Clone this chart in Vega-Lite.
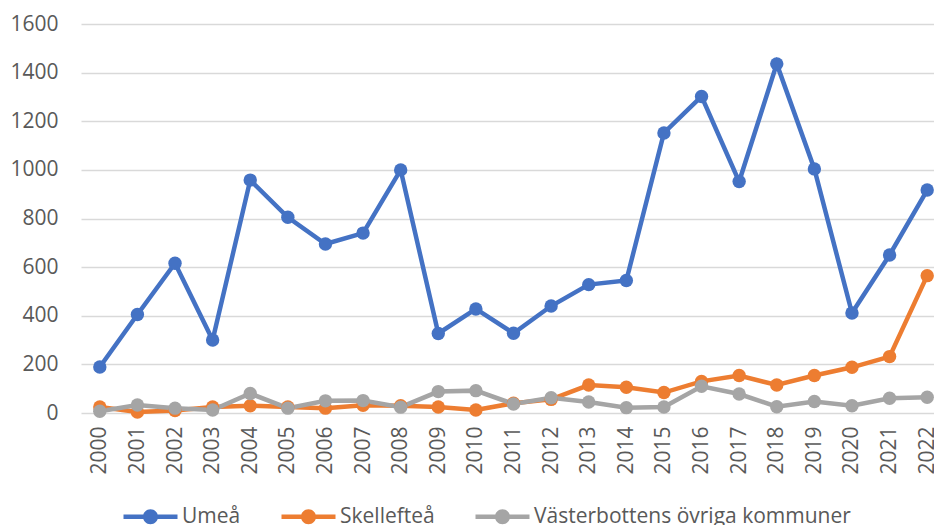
{
  "$schema": "https://vega.github.io/schema/vega-lite/v6.json",
  "width": 865,
  "height": 389,
  "autosize": {"type": "none"},
  "padding": {"left": 81, "top": 24, "right": 0, "bottom": 112},
  "background": "white",
  "config": {
    "view": {"stroke": null},
    "font": "Open Sans",
    "axis": {"labelFont": "Open Sans", "labelFontSize": 21, "labelColor": "#595959", "ticks": false, "domain": false, "title": null},
    "legend": {"labelFont": "Open Sans", "labelFontSize": 21, "labelColor": "#595959", "padding": 0, "labelLimit": 0}
  },
  "data": {
    "values": [
      {"year": "2000", "serie": "Umeå", "value": 189},
      {"year": "2001", "serie": "Umeå", "value": 405},
      {"year": "2002", "serie": "Umeå", "value": 616},
      {"year": "2003", "serie": "Umeå", "value": 300},
      {"year": "2004", "serie": "Umeå", "value": 958},
      {"year": "2005", "serie": "Umeå", "value": 805},
      {"year": "2006", "serie": "Umeå", "value": 695},
      {"year": "2007", "serie": "Umeå", "value": 740},
      {"year": "2008", "serie": "Umeå", "value": 1000},
      {"year": "2009", "serie": "Umeå", "value": 327},
      {"year": "2010", "serie": "Umeå", "value": 428},
      {"year": "2011", "serie": "Umeå", "value": 328},
      {"year": "2012", "serie": "Umeå", "value": 440},
      {"year": "2013", "serie": "Umeå", "value": 528},
      {"year": "2014", "serie": "Umeå", "value": 545},
      {"year": "2015", "serie": "Umeå", "value": 1152},
      {"year": "2016", "serie": "Umeå", "value": 1302},
      {"year": "2017", "serie": "Umeå", "value": 952},
      {"year": "2018", "serie": "Umeå", "value": 1436},
      {"year": "2019", "serie": "Umeå", "value": 1004},
      {"year": "2020", "serie": "Umeå", "value": 411},
      {"year": "2021", "serie": "Umeå", "value": 650},
      {"year": "2022", "serie": "Umeå", "value": 917},
      {"year": "2000", "serie": "Skellefteå", "value": 25},
      {"year": "2001", "serie": "Skellefteå", "value": 4},
      {"year": "2002", "serie": "Skellefteå", "value": 10},
      {"year": "2003", "serie": "Skellefteå", "value": 25},
      {"year": "2004", "serie": "Skellefteå", "value": 30},
      {"year": "2005", "serie": "Skellefteå", "value": 25},
      {"year": "2006", "serie": "Skellefteå", "value": 20},
      {"year": "2007", "serie": "Skellefteå", "value": 32},
      {"year": "2008", "serie": "Skellefteå", "value": 30},
      {"year": "2009", "serie": "Skellefteå", "value": 25},
      {"year": "2010", "serie": "Skellefteå", "value": 12},
      {"year": "2011", "serie": "Skellefteå", "value": 40},
      {"year": "2012", "serie": "Skellefteå", "value": 56},
      {"year": "2013", "serie": "Skellefteå", "value": 115},
      {"year": "2014", "serie": "Skellefteå", "value": 106},
      {"year": "2015", "serie": "Skellefteå", "value": 84},
      {"year": "2016", "serie": "Skellefteå", "value": 130},
      {"year": "2017", "serie": "Skellefteå", "value": 154},
      {"year": "2018", "serie": "Skellefteå", "value": 115},
      {"year": "2019", "serie": "Skellefteå", "value": 154},
      {"year": "2020", "serie": "Skellefteå", "value": 188},
      {"year": "2021", "serie": "Skellefteå", "value": 232},
      {"year": "2022", "serie": "Skellefteå", "value": 565},
      {"year": "2000", "serie": "Västerbottens övriga kommuner", "value": 7},
      {"year": "2001", "serie": "Västerbottens övriga kommuner", "value": 33},
      {"year": "2002", "serie": "Västerbottens övriga kommuner", "value": 20},
      {"year": "2003", "serie": "Västerbottens övriga kommuner", "value": 12},
      {"year": "2004", "serie": "Västerbottens övriga kommuner", "value": 80},
      {"year": "2005", "serie": "Västerbottens övriga kommuner", "value": 20},
      {"year": "2006", "serie": "Västerbottens övriga kommuner", "value": 50},
      {"year": "2007", "serie": "Västerbottens övriga kommuner", "value": 51},
      {"year": "2008", "serie": "Västerbottens övriga kommuner", "value": 24},
      {"year": "2009", "serie": "Västerbottens övriga kommuner", "value": 88},
      {"year": "2010", "serie": "Västerbottens övriga kommuner", "value": 92},
      {"year": "2011", "serie": "Västerbottens övriga kommuner", "value": 37},
      {"year": "2012", "serie": "Västerbottens övriga kommuner", "value": 63},
      {"year": "2013", "serie": "Västerbottens övriga kommuner", "value": 45},
      {"year": "2014", "serie": "Västerbottens övriga kommuner", "value": 22},
      {"year": "2015", "serie": "Västerbottens övriga kommuner", "value": 25},
      {"year": "2016", "serie": "Västerbottens övriga kommuner", "value": 110},
      {"year": "2017", "serie": "Västerbottens övriga kommuner", "value": 78},
      {"year": "2018", "serie": "Västerbottens övriga kommuner", "value": 26},
      {"year": "2019", "serie": "Västerbottens övriga kommuner", "value": 47},
      {"year": "2020", "serie": "Västerbottens övriga kommuner", "value": 30},
      {"year": "2021", "serie": "Västerbottens övriga kommuner", "value": 61},
      {"year": "2022", "serie": "Västerbottens övriga kommuner", "value": 65}
    ]
  },
  "encoding": {
    "x": {
      "field": "year", "type": "ordinal",
      "scale": {"type": "point", "padding": 0.5},
      "axis": {"labelAngle": -90, "labelPadding": 13, "grid": false, "labelAlign": "right", "labelBaseline": "middle"}
    },
    "y": {
      "field": "value", "type": "quantitative",
      "scale": {"domain": [0, 1600], "nice": false},
      "axis": {"values": [0, 200, 400, 600, 800, 1000, 1200, 1400, 1600], "format": "d", "labelPadding": 23, "grid": true, "gridColor": "#D9D9D9", "gridWidth": 1.5}
    },
    "color": {
      "field": "serie", "type": "nominal",
      "sort": ["Umeå", "Skellefteå", "Västerbottens övriga kommuner"],
      "scale": {"domain": ["Umeå", "Skellefteå", "Västerbottens övriga kommuner"], "range": ["#4472C4", "#ED7D31", "#A5A5A5"]},
      "legend": {
        "title": null,
        "orient": "none",
        "direction": "horizontal",
        "legendX": 59,
        "legendY": 482,
        "symbolType": "M-3.6,-0.3H3.6V0.3H-3.6Z M1,0A1,1,0,1,1,-1,0A1,1,0,1,1,1,0Z",
        "symbolSize": 225,
        "labelOffset": 21,
        "columnPadding": 40,
        "labelLimit": 0,
        "encode": {"symbols": {"update": {"fill": {"scale": "color", "field": "value"}, "strokeWidth": {"value": 0}, "opacity": {"value": 1}}}}
      }
    }
  },
  "layer": [
    {"mark": {"type": "line", "strokeWidth": 4.5}},
    {"mark": {"type": "point", "filled": true, "opacity": 1, "size": 180}}
  ]
}
